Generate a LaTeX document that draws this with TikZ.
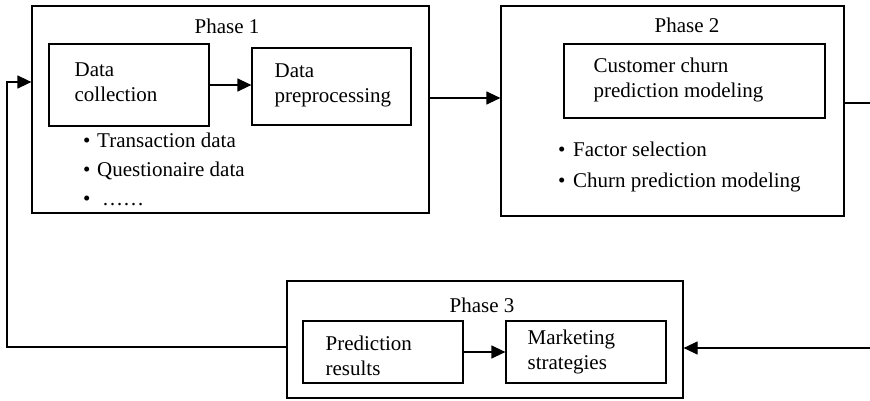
\documentclass[tikz,border=0pt]{standalone}
\usepackage{fontspec}
\setmainfont{Liberation Serif}
\usetikzlibrary{arrows.meta}
\begin{document}
\begin{tikzpicture}[x=1pt,y=-1pt,
  phasebox/.style={draw, line width=1.2pt, inner sep=0pt},
  stagebox/.style={draw, line width=1.2pt, inner sep=0pt},
  boxtext/.style={font=\fontsize{21}{25}\selectfont, align=left, inner sep=0pt},
  itemtext/.style={font=\fontsize{21}{25}\selectfont, inner sep=0pt, anchor=base west},
  phasetitle/.style={font=\fontsize{21}{25}\selectfont, inner sep=0pt, anchor=base},
  flow/.style={line width=1.2pt, -{Triangle[length=14pt,width=13pt]}},
  plain/.style={line width=1.2pt}]
\useasboundingbox (0,0) rectangle (870,401);

% Phase containers
\node[phasebox, minimum width=397pt, minimum height=207pt] (p1) at (230.5,109.5) {};
\node[phasebox, minimum width=343pt, minimum height=210pt] (p2) at (672.5,111) {};
\node[phasebox, minimum width=396pt, minimum height=117pt] (p3) at (485,339.5) {};

\node[phasetitle] (p1t) at (227,34) {Phase 1};
\node[phasetitle] (p2t) at (687,33) {Phase 2};
\node[phasetitle] (p3t) at (482,312) {Phase 3};

% Stages inside the phases
\node[stagebox, minimum width=160pt, minimum height=82pt] (dc) at (129,85) {};
\node[boxtext, anchor=west] (dct) at ([xshift=26pt,yshift=3pt]dc.west) {Data\\collection};
\node[stagebox, minimum width=159pt, minimum height=77pt] (dp) at (331.5,86.5) {};
\node[boxtext, anchor=west] (dpt) at ([xshift=23pt,yshift=1pt]dp.west) {Data\\preprocessing};
\node[stagebox, minimum width=261pt, minimum height=74pt] (cc) at (694.5,81) {};
\node[boxtext, anchor=west] (cct) at ([xshift=30pt,yshift=1pt]cc.west) {Customer churn\\prediction modeling};
\node[stagebox, minimum width=160pt, minimum height=62pt] (pr) at (383,352) {};
\node[boxtext, anchor=west] (prt) at ([xshift=23pt,yshift=-4pt]pr.west) {Prediction\\results};
\node[stagebox, minimum width=160pt, minimum height=62pt] (ms) at (586,352) {};
\node[boxtext, anchor=west] (mst) at ([xshift=22pt]ms.west) {Marketing\\strategies};

% Bullet lists
\node[itemtext] (i1) at (83,147) {\makebox[14pt][l]{\textbullet}Transaction data};
\node[itemtext] (i2) at (83,176) {\makebox[14pt][l]{\textbullet}Questionaire data};
\node[itemtext] (i3) at (83,205) {\makebox[19pt][l]{\textbullet}……};
\node[itemtext] (i4) at (558,157) {\makebox[15pt][l]{\textbullet}Factor selection};
\node[itemtext] (i5) at (558,187) {\makebox[15pt][l]{\textbullet}Churn prediction modeling};

% Connectors
\coordinate (fbB) at (7,347);
\coordinate (fbT) at (7,82);
\coordinate (m12) at (465,98);
\coordinate (r2) at (870,103);
\coordinate (r3) at (870,348);

\draw[flow] (dc.east) -- (dc.east -| dp.west);
\draw[flow] (pr.east) -- (pr.east -| ms.west);
\draw[flow] (m12 -| p1.east) -- (m12 -| p2.west);
\draw[plain] (r2 -| p2.east) -- (r2);
\draw[flow] (r3) -- (r3 -| p3.east);
\draw[flow] (fbB -| p3.west) -- (fbB) -- (fbT) -- (fbT -| p1.west);
\end{tikzpicture}
\end{document}
